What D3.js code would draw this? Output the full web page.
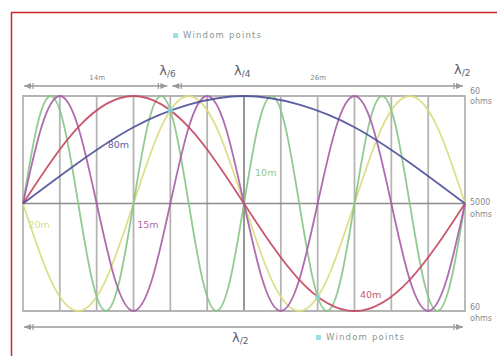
<!DOCTYPE html>
<html>
<head>
<meta charset="utf-8">
<script src="https://cdn.jsdelivr.net/npm/d3@7"></script>
<style>
  body { margin: 0; background: #fff; }
  text { font-family: "DejaVu Sans", "Liberation Sans", sans-serif; }
</style>
</head>
<body>
<svg id="chart" width="497" height="356"></svg>
<script>
// Standing-wave levels along a half-wave 80m wire, sampled every 1/8 cycle.
// +1 and -1 are the 60 ohm current peaks, 0 is the 5000 ohm voltage node line.
const bandNames  = ["20m", "10m", "15m", "40m", "80m"];
const bandColors = ["#d9db7e", "#86c585", "#a65ca6", "#c3465f", "#4b4f98"];
const lv80 = [0, 0.38, 0.71, 0.92, 1, 0.92, 0.71, 0.38, 0];
const lv40 = [0, 0.71, 1, 0.71, 0, -0.71, -1, -0.71, 0];
const lv20 = [0, -0.71, -1, -0.71, 0, 0.71, 1, 0.71, 0, -0.71, -1, -0.71, 0, 0.71, 1, 0.71, 0];
const lv15 = [0, 0.71, 1, 0.71, 0, -0.71, -1, -0.71,
              0, 0.71, 1, 0.71, 0, -0.71, -1, -0.71,
              0, 0.71, 1, 0.71, 0, -0.71, -1, -0.71, 0];
const lv10 = [0, 0.71, 1, 0.71, 0, -0.71, -1, -0.71,
              0, 0.71, 1, 0.71, 0, -0.71, -1, -0.71,
              0, 0.71, 1, 0.71, 0, -0.71, -1, -0.71,
              0, 0.71, 1, 0.71, 0, -0.71, -1, -0.71, 0];
const bandLevels = [lv20, lv10, lv15, lv40, lv80];

// Band label anchors: [grid position, level]
const labelPos = [[0.15, -0.23], [6.3, 0.26], [3.1, -0.23], [9.15, -0.88], [2.3, 0.52]];

// Wire is divided into 12 grid columns; the feed point sits 1/3 along.
const gridCols = d3.range(0, 13);
const wireLen = 12;
const feedAt = [4, 8];
const feedLevel = [0.87, -0.87];

const ohmLabels = [["60", "ohms"], ["5000", "ohms"], ["60", "ohms"]];
const ohmLevels = [1, 0, -1];

const svg = d3.select("#chart");
const x = d3.scaleLinear().domain([0, wireLen]).range([23, 465]);
const y = d3.scaleLinear().domain([-1, 1]).range([311, 96]);

// outer red frame (open on right and bottom)
svg.append("path")
  .attr("d", "M11.5,356 V12.5 H497")
  .attr("fill", "none").attr("stroke", "#c9262b").attr("stroke-width", 1.5);

// grid
const grid = svg.append("g");
grid.selectAll("line.v").data(gridCols).join("line")
  .attr("x1", d => x(d)).attr("x2", d => x(d))
  .attr("y1", y(1)).attr("y2", y(-1))
  .attr("stroke", d => d === 6 ? "#8c8c8c" : "#b4b4b4")
  .attr("stroke-width", 1.8);
grid.append("line")
  .attr("x1", x(0)).attr("x2", x(wireLen)).attr("y1", y(0)).attr("y2", y(0))
  .attr("stroke", "#8c8c8c").attr("stroke-width", 1.6);
grid.selectAll("line.h").data([1, -1]).join("line")
  .attr("x1", x(0) - 1).attr("x2", x(wireLen) + 1)
  .attr("y1", d => y(d)).attr("y2", d => y(d))
  .attr("stroke", "#b4b4b4").attr("stroke-width", 1.8);

// band curves
const line = d3.line()
  .x(d => x(d[0])).y(d => y(d[1]))
  .curve(d3.curveNatural);
bandLevels.forEach((lv, i) => {
  const pts = lv.map((v, k) => [k * wireLen / (lv.length - 1), v]);
  svg.append("path").datum(pts)
    .attr("d", line)
    .attr("fill", "none")
    .attr("stroke", bandColors[i])
    .attr("stroke-width", 1.8)
    .attr("stroke-opacity", 0.9);
});

// band labels
bandNames.forEach((name, i) => {
  svg.append("text")
    .attr("x", x(labelPos[i][0])).attr("y", y(labelPos[i][1]))
    .attr("font-size", 9.5).attr("fill", bandColors[i])
    .attr("opacity", 0.9)
    .text(name);
});

// feed points
svg.selectAll("rect.feed").data(feedAt).join("rect")
  .attr("x", (d) => x(d) - 2.5).attr("y", (d, i) => y(feedLevel[i]) - 2.5)
  .attr("width", 5).attr("height", 5)
  .attr("fill", "#8adcdc").attr("opacity", 0.85);

// ohm labels on the right
ohmLabels.forEach((pair, i) => {
  const t = svg.append("text").attr("font-size", 8).attr("fill", "#8a8a8a");
  const base = y(ohmLevels[i]);
  const offs = i === 0 ? [-2, 8] : i === 1 ? [1.5, 13.5] : [-1, 10];
  t.append("tspan").attr("x", 470).attr("y", base + offs[0]).text(pair[0]);
  t.append("tspan").attr("x", 470).attr("y", base + offs[1]).text(pair[1]);
});

// dimension lines with arrowheads
function dimLine(x1, x2, yy) {
  const g = svg.append("g").attr("fill", "#9a9a9a").attr("stroke", "#9a9a9a");
  g.append("line").attr("x1", x1).attr("x2", x2).attr("y1", yy).attr("y2", yy)
    .attr("stroke-width", 1.3);
  g.append("path").attr("stroke", "none")
    .attr("d", `M${x1},${yy} l7,-3 v6 z M${x2},${yy} l-7,-3 v6 z`);
  g.append("path").attr("stroke-width", 1.2)
    .attr("d", `M${x1 + 9},${yy - 3} v6 M${x2 - 9},${yy - 3} v6`);
}
const dimY = 86;
dimLine(x(0) + 1, x(feedAt[0]) - 3, dimY);
dimLine(x(feedAt[0]) + 2, x(wireLen) - 2, dimY);
dimLine(x(0) + 1, x(wireLen) - 2, 327);

const small = (tx, ty, s, size, fill) => svg.append("text")
  .attr("x", tx).attr("y", ty).attr("font-size", size).attr("fill", fill).text(s);
small(x(1.8), 80, "14m", 7, "#8a8a8a");
small(x(7.8), 80, "26m", 7, "#8a8a8a");

// wavelength fraction marks
function lambda(tx, ty, frac) {
  const t = svg.append("text").attr("x", tx).attr("y", ty)
    .attr("font-size", 13).attr("fill", "#5c6070");
  t.append("tspan").text("λ");
  t.append("tspan").attr("font-size", 9).attr("dy", 2).text("/" + frac);
}
lambda(x(feedAt[0]) - 11, 75, "6");
lambda(x(6) - 10, 75, "4");
lambda(x(wireLen) - 11, 74, "2");
lambda(x(6) - 12, 342, "2");

// feed point keys
function feedKey(tx, ty) {
  svg.append("rect").attr("x", tx).attr("y", ty - 5).attr("width", 5).attr("height", 5)
    .attr("fill", "#8adcdc").attr("opacity", 0.85);
  svg.append("text").attr("x", tx + 10).attr("y", ty)
    .attr("font-size", 8.5).attr("fill", "#8a9696").attr("letter-spacing", 1.2)
    .text("Windom points");
}
feedKey(173, 38);
feedKey(316, 340);
</script>
</body>
</html>
